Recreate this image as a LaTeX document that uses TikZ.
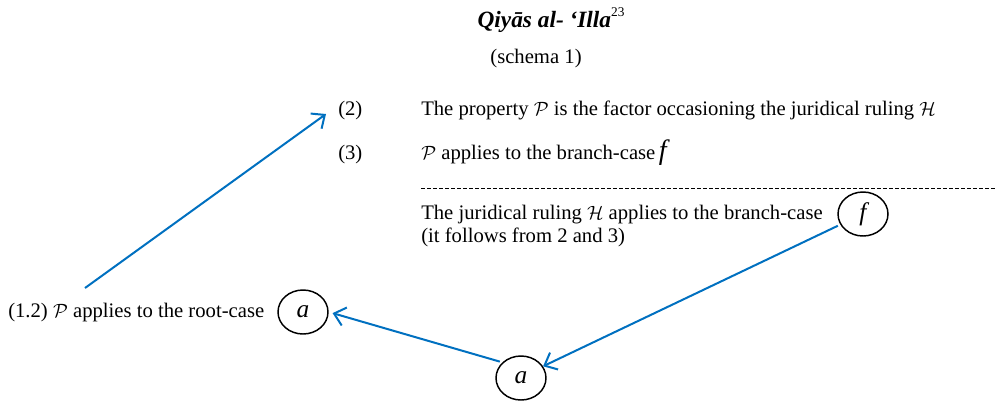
\documentclass[tikz,border=0pt]{standalone}
\usepackage{fontspec}
\setmainfont{Liberation Serif}
\usetikzlibrary{arrows.meta,shapes.geometric}
\definecolor{arrowblue}{RGB}{0,112,192}
\tikzset{
  txt/.style={inner sep=0pt, anchor=base west, font=\fontsize{15.5}{17}\selectfont},
  circ/.style={draw=black, ellipse, line width=1.1pt, minimum width=37.5pt, minimum height=33pt, inner sep=0pt, font=\fontsize{19}{20}\selectfont\itshape},
  conn/.style={draw=arrowblue, line width=1.5pt, -{Straight Barb[length=8pt,width=14pt,line width=1.5pt]}},
}
\newcommand{\Pp}{$\mathcal{P}$}
\newcommand{\Hh}{$\mathcal{H}$}
\begin{document}
\begin{tikzpicture}[x=0.75pt,y=-0.75pt]
\useasboundingbox (0,0) rectangle (995,401);
\node[inner sep=0pt, anchor=base, font=\fontsize{17.5}{19}\selectfont\bfseries\itshape] (title) at (551,27) {Qiyās al- ‘Illa\raisebox{0.45em}{\fontsize{10}{11}\selectfont\mdseries\upshape 23}};
\node[txt, anchor=base] (schema) at (536,63) {(schema 1)};
\node[txt] (n2) at (338,115) {(2)};
\node[txt] (t2) at (421,115) {The property \Pp{} is the factor occasioning the juridical ruling \Hh};
\node[txt] (n3) at (338,159) {(3)};
\node[txt] (t3) at (421,159) {\Pp{} applies to the branch-case\,{\fontsize{21}{22}\selectfont\itshape f}};
\coordinate (dl) at (421,188);
\coordinate (dr) at (995,188);
\draw[dashed, dash pattern=on 3pt off 1.5pt, line width=0.6pt] (dl) -- (dr);
\node[txt] (t4) at (421,219) {The juridical ruling \Hh{} applies to the branch-case};
\node[txt] (t5) at (421,242) {(it follows from 2 and 3)};
\node[txt] (t1) at (8,317) {(1.2) \Pp{} applies to the root-case};
\node[circ] (cf) at (863,214) {f};
\node[circ] (ca1) at (303,312) {a};
\node[circ] (ca2) at (521,378) {a};
\coordinate (s1) at (85,288);
\coordinate (e1) at (326,114);
\draw[conn] (s1) -- (e1);
\draw[conn, shorten <=2pt] (cf.205) -- (ca2.28);
\draw[conn, shorten <=2pt, shorten >=3pt] (ca2.140) -- (ca1.east);
\end{tikzpicture}
\end{document}
